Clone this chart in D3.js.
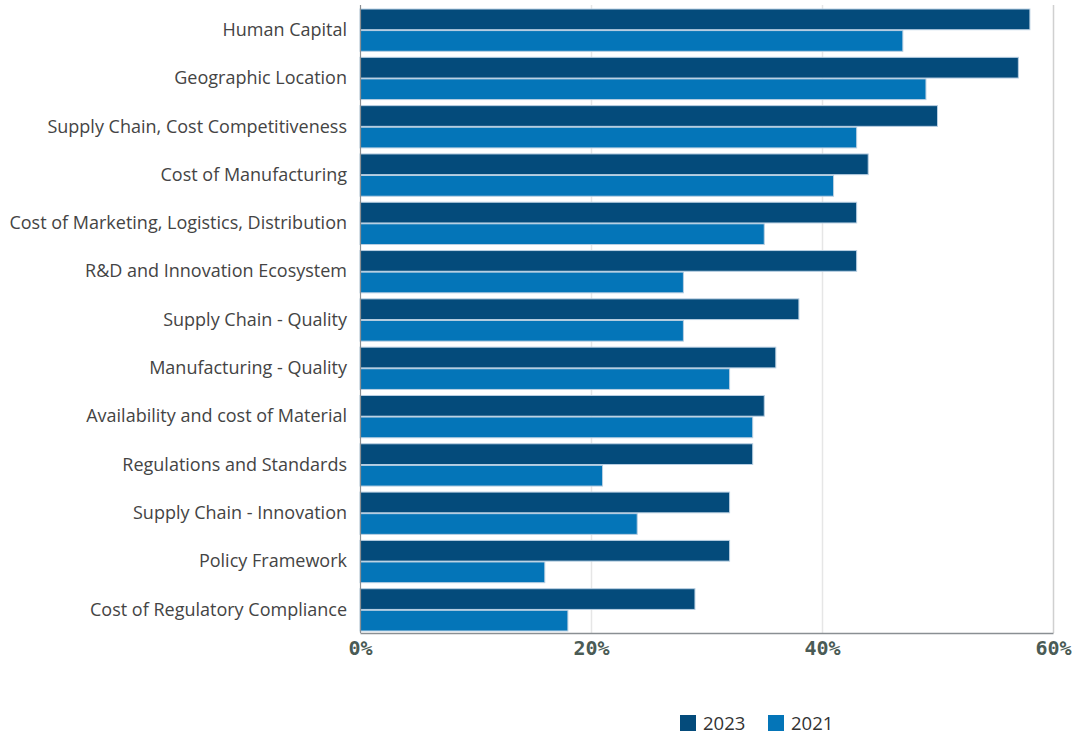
<!DOCTYPE html>
<html>
<head>
<meta charset="utf-8">
<script src="https://cdn.jsdelivr.net/npm/d3@7"></script>
<style>
  html, body { margin: 0; padding: 0; background: #fff; }
  svg { display: block; }
</style>
</head>
<body>
<svg id="chart" width="1077" height="734"></svg>
<script>
// Location factors ranked by share of respondents, 2023 vs 2021
const categories = [
  "Human Capital",
  "Geographic Location",
  "Supply Chain, Cost Competitiveness",
  "Cost of Manufacturing",
  "Cost of Marketing, Logistics, Distribution",
  "R&D and Innovation Ecosystem",
  "Supply Chain - Quality",
  "Manufacturing - Quality",
  "Availability and cost of Material",
  "Regulations and Standards",
  "Supply Chain - Innovation",
  "Policy Framework",
  "Cost of Regulatory Compliance"
];
const seriesNames = ["2023", "2021"];
const values2023 = [58, 57, 50, 44, 43, 43, 38, 36, 35, 34, 32, 32, 29];
const values2021 = [47, 49, 43, 41, 35, 28, 28, 32, 34, 21, 24, 16, 18];
const xTicks = [0, 20, 40, 60];
const seriesColors = ["#044b7b", "#0475b8"];

const svg = d3.select("#chart");
const margin = { left: 360, right: 24, top: 6, bottom: 100 };
const plotRight = 1053;
const plotBottom = 633;

const x = d3.scaleLinear().domain([0, 60]).range([margin.left, plotRight]);
const y = d3.scaleBand().domain(categories).range([6, 634]).paddingInner(0.125).paddingOuter(0.0625);
const ySub = d3.scaleBand().domain(seriesNames).range([0, y.bandwidth()]).paddingInner(0.04);

// vertical gridlines
svg.append("g")
  .selectAll("line")
  .data(xTicks.filter(d => d > 0))
  .join("line")
  .attr("x1", d => Math.round(x(d)) + 0.5)
  .attr("x2", d => Math.round(x(d)) + 0.5)
  .attr("y1", 5)
  .attr("y2", plotBottom)
  .attr("stroke", d => d === 60 ? "#d0d0d0" : "#e6e6e6")
  .attr("stroke-width", 1.5);

// bars
const rows = categories.map((c, i) => ({ cat: c, vals: [values2023[i], values2021[i]] }));
const groups = svg.append("g")
  .selectAll("g")
  .data(rows)
  .join("g")
  .attr("transform", d => `translate(0,${y(d.cat)})`);

groups.selectAll("rect")
  .data(d => d.vals.map((v, k) => ({ series: seriesNames[k], value: v, k })))
  .join("rect")
  .attr("x", x(0))
  .attr("y", d => ySub(d.series))
  .attr("width", d => x(d.value) - x(0))
  .attr("height", ySub.bandwidth())
  .attr("fill", d => seriesColors[d.k])
  .attr("stroke", "#b9cfe2")
  .attr("stroke-width", 1);

// left axis line
svg.append("line")
  .attr("x1", margin.left + 0.5).attr("x2", margin.left + 0.5)
  .attr("y1", 5).attr("y2", plotBottom)
  .attr("stroke", "#8a8f93").attr("stroke-width", 1.2);

// bottom axis
const xAxis = d3.axisBottom(x)
  .tickValues(xTicks)
  .tickFormat(d => d + "%")
  .tickSize(0)
  .tickPadding(8);
const gx = svg.append("g")
  .attr("transform", `translate(0,${plotBottom})`)
  .call(xAxis);
gx.select(".domain").attr("stroke", "#8a8f93").attr("stroke-width", 1.5);
gx.selectAll("text")
  .attr("font-family", "'DejaVu Sans Mono', monospace")
  .attr("font-weight", "bold")
  .attr("font-size", 20)
  .attr("fill", "#4a5b55");

// category labels
svg.append("g")
  .selectAll("text")
  .data(categories)
  .join("text")
  .attr("x", 347)
  .attr("y", d => y(d) + y.bandwidth() / 2 - 0.5)
  .attr("dy", "0.35em")
  .attr("text-anchor", "end")
  .attr("font-family", "'Open Sans', sans-serif")
  .attr("font-size", 18)
  .attr("fill", "#444")
  .text(d => d);

// legend
const legend = svg.append("g").attr("transform", "translate(680,714)");
const legendItems = legend.selectAll("g")
  .data(seriesNames)
  .join("g")
  .attr("transform", (d, i) => `translate(${i * 88},0)`);
legendItems.append("rect")
  .attr("y", 1)
  .attr("width", 16).attr("height", 16)
  .attr("fill", (d, i) => seriesColors[i]);
legendItems.append("text")
  .attr("x", 23).attr("y", 9)
  .attr("dy", "0.36em")
  .attr("font-family", "'Open Sans', sans-serif")
  .attr("font-size", 18.5)
  .attr("fill", "#333")
  .text(d => d);
</script>
</body>
</html>
